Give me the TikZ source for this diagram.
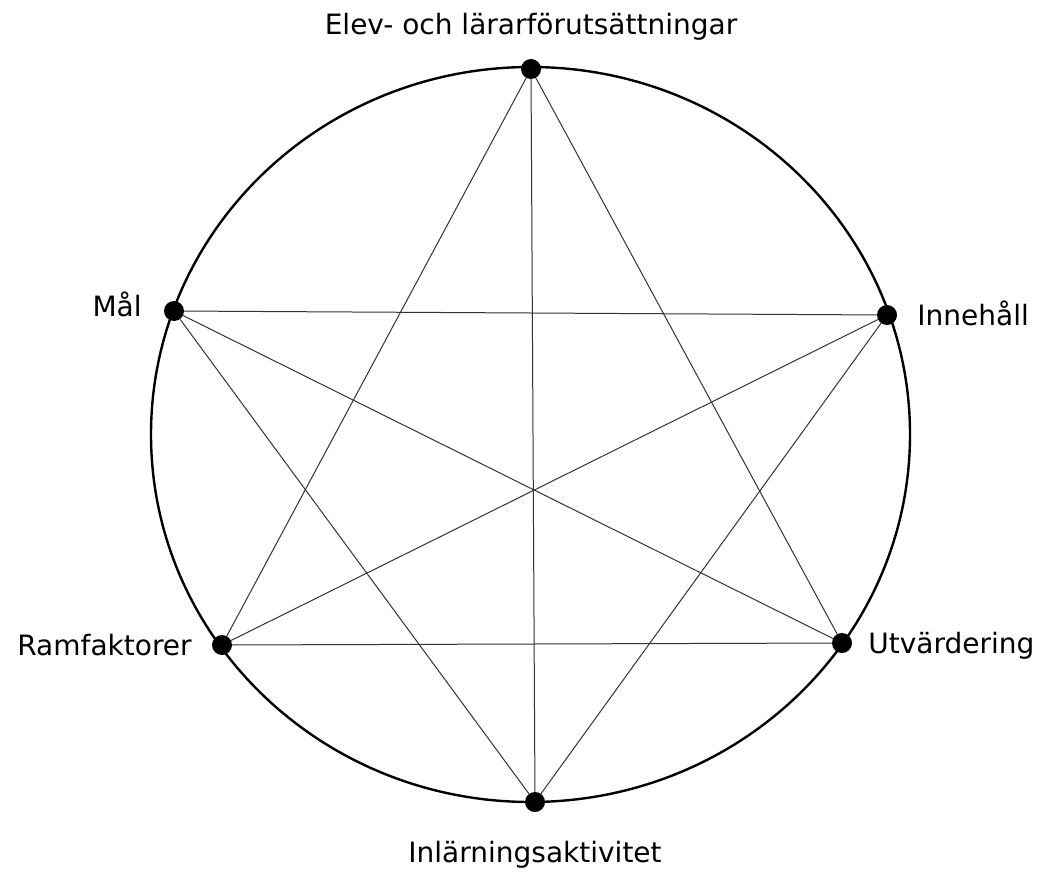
\documentclass[tikz,border=0pt]{standalone}
\usepackage{fontspec}
\setmainfont{DejaVu Sans}
\usetikzlibrary{positioning}
\tikzset{
    % dots on the ring
    punkt/.style={circle, fill=black, minimum size=20pt, inner sep=0pt},
    % text beside the dots
    etikett/.style={font=\fontsize{28}{32}\selectfont, inner sep=0pt,
        text height=20.5pt, text depth=0pt},
    % ring and chords
    ring/.style={line width=2.4pt},
    korda/.style={line width=1pt, black!80},
}
\begin{document}
\begin{tikzpicture}[x=1pt,y=-1pt]
    \useasboundingbox (0,0) rectangle (1038,872);
    \draw[ring] (530.5,434.5) ellipse [x radius=379.5, y radius=367.5];
    \node[punkt] (elev) at (531,69) {};
    \node[punkt] (mal) at (174,311) {};
    \node[punkt] (inneh) at (887,315) {};
    \node[punkt] (ram) at (222,645) {};
    \node[punkt] (utv) at (842,643) {};
    \node[punkt] (inl) at (535,802) {};
    % chords
    \foreach \a/\b in {elev/inl,elev/ram,elev/utv,mal/inneh,mal/utv,mal/inl,inneh/ram,inneh/inl,ram/utv}
        \draw[korda] (\a) -- (\b);
    \node[etikett, above=24pt of elev] {Elev- och lärarförutsättningar};
    \node[etikett, left=22pt of mal, yshift=5pt] {Mål};
    \node[etikett, right=20pt of inneh] {Innehåll};
    \node[etikett, left=20pt of ram] {Ramfaktorer};
    \node[etikett, right=16pt of utv] {Utvärdering};
    \node[etikett, below=30pt of inl] {Inlärningsaktivitet};
\end{tikzpicture}
\end{document}
